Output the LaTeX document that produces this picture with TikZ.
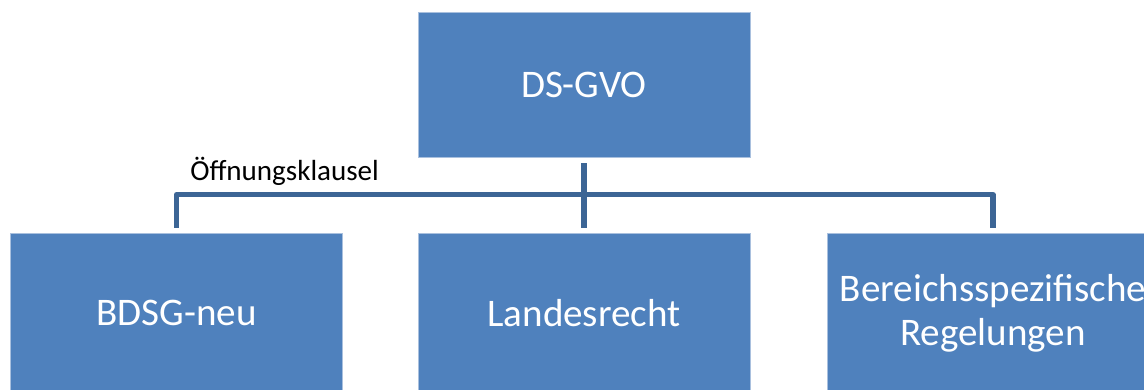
\documentclass[tikz,border=0pt]{standalone}
\usepackage{fontspec}
\setmainfont{Carlito}
\definecolor{boxblue}{HTML}{4F81BD}
\definecolor{boxedge}{HTML}{A9C0DE}
\definecolor{connblue}{HTML}{3C6595}
\begin{document}
\begin{tikzpicture}[x=0.75pt,y=-0.75pt,
  blockbox/.style={rectangle, fill=boxblue, draw=boxedge, line width=0.6pt, inner sep=0pt,
    minimum width=249pt, text=white, align=center,
    font=\fontsize{29.3}{33}\selectfont},
  conn/.style={draw=connblue, line width=3.9pt, line join=round}]
\useasboundingbox (0,0) rectangle (1144,389);
\clip (0,0) rectangle (1144,389);
\node[blockbox, minimum height=108.75pt] (top) at (584,84.5) {DS-GVO};
\node[blockbox, minimum height=120pt] (left) at (176.5,313) {BDSG-neu};
\node[blockbox, minimum height=120pt] (mid) at (584,313) {Landesrecht};
\node[blockbox, minimum height=120pt, font=\fontsize{29.3}{33}\selectfont] (right) at (993,313) {Bereichsspezifische\\Regelungen};
\node[anchor=base west, inner sep=0pt, font=\fontsize{21.8}{26}\selectfont] (lbl) at (190,180) {Öffnungsklausel};
\draw[conn] ([yshift=-4.5pt]top.south) -- ([yshift=3.75pt]mid.north);
\draw[conn] ([yshift=3.75pt]left.north) |- ([yshift=28.5pt]right.north) -- ([yshift=3.75pt]right.north);
\end{tikzpicture}
\end{document}
